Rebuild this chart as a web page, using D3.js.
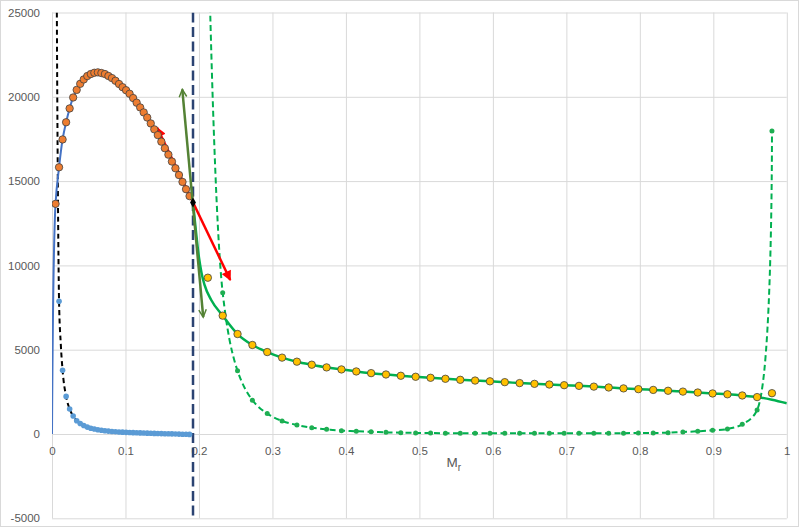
<!DOCTYPE html>
<html lang="en">
  <head>
    <style>
      body { margin: 0; background: #fff; }
      .grid line { stroke: #d9d9d9; stroke-width: 1; }
      .labels text {
        fill: #595959;
        font-family: "Liberation Sans", Arial, sans-serif;
        font-size: 11.5px;
      }
    </style>
  </head>

  <body>
    <svg id="chart" width="800" height="528"></svg>
  </body>
  <script src="https://d3js.org/d3.v7.min.js"></script>
  <script>
// left branch (Mr below the boundary)
let leftX = [0.0048, 0.0096, 0.0144, 0.0192, 0.0240, 0.0288, 0.0336, 0.0384, 0.0432, 0.0480,
             0.0528, 0.0576, 0.0624, 0.0672, 0.0720, 0.0768, 0.0816, 0.0864, 0.0912, 0.0960,
             0.1008, 0.1056, 0.1104, 0.1152, 0.1200, 0.1248, 0.1296, 0.1344, 0.1392, 0.1440,
             0.1488, 0.1536, 0.1584, 0.1632, 0.1680, 0.1728, 0.1776, 0.1824, 0.1872]
let orangeY = [13650, 15820, 17470, 18490, 19310, 19960, 20410, 20770, 21030, 21230,
               21350, 21425, 21450, 21410, 21350, 21235, 21110, 20950, 20760, 20570,
               20390, 20180, 19925, 19650, 19370, 19075, 18770, 18420, 18070, 17730,
               17340, 16950, 16570, 16160, 15760, 15360, 14950, 14520, 14110]
let blueDotY = [27400, 7875, 3780, 2230, 1480, 1070, 790, 620, 500, 410,
                345, 295, 255, 222, 195, 172, 152, 136, 122, 110,
                99, 89, 80, 72, 64, 57, 50, 43, 36, 30,
                24, 18, 12, 6, 0, -6, -12, -18, -24]
let blackCurveX = [0.0066, 0.0072, 0.0080, 0.0088, 0.0096, 0.0120, 0.0144, 0.0192, 0.0240,
                   0.0288, 0.0336, 0.0432, 0.0528, 0.0720, 0.0960, 0.1200, 0.1500, 0.1900]
let blackCurveY = [25000, 19800, 14500, 10500, 7875, 5300, 3780, 2230, 1480,
                   1070, 790, 500, 345, 195, 110, 64, 24, -20]

// right branch
let rightX = [0.2121, 0.2323, 0.2525, 0.2727, 0.2929, 0.3131, 0.3333, 0.3535, 0.3737, 0.3939,
              0.4141, 0.4343, 0.4545, 0.4747, 0.4949, 0.5152, 0.5354, 0.5556, 0.5758, 0.5960,
              0.6162, 0.6364, 0.6566, 0.6768, 0.6970, 0.7172, 0.7374, 0.7576, 0.7778, 0.7980,
              0.8182, 0.8384, 0.8586, 0.8788, 0.8990, 0.9192, 0.9394, 0.9596, 0.9798]
let yellowY = [9270, 7020, 5930, 5280, 4860, 4530, 4290, 4110, 3950, 3830,
               3710, 3610, 3530, 3455, 3395, 3335, 3275, 3215, 3170, 3125,
               3075, 3020, 2975, 2935, 2895, 2855, 2810, 2760, 2705, 2660,
               2615, 2565, 2515, 2460, 2405, 2355, 2285, 2190, 2420]
let greenDotY = [31000, 8375, 3750, 2006, 1210, 774, 536, 375, 280, 200,
                 160, 130, 100, 80, 65, 55, 48, 44, 42, 40,
                 40, 40, 40, 40, 40, 42, 44, 46, 50, 55,
                 62, 77, 119, 160, 220, 298, 577, 1428, 17976]
let greenCurveX = [0.1919, 0.1957, 0.2001, 0.2035, 0.2076, 0.2167, 0.2323, 0.2525, 0.2727, 0.2929,
                   0.3131, 0.3333, 0.3535, 0.3737, 0.3939, 0.4141, 0.4343, 0.4545, 0.4747, 0.4949,
                   0.5152, 0.5354, 0.5556, 0.5758, 0.5960, 0.6162, 0.6364, 0.6566, 0.6768, 0.6970,
                   0.7172, 0.7374, 0.7576, 0.7778, 0.7980, 0.8182, 0.8384, 0.8586, 0.8788, 0.8990,
                   0.9192, 0.9394, 0.9596, 0.9798, 1.0]
let greenCurveY = [13730, 12100, 10440, 9550, 8840, 7950, 7020, 5930, 5280, 4860,
                   4530, 4290, 4110, 3950, 3830, 3710, 3610, 3530, 3455, 3395,
                   3335, 3275, 3215, 3170, 3125, 3075, 3020, 2975, 2935, 2895,
                   2855, 2810, 2760, 2705, 2660, 2615, 2565, 2515, 2460, 2405,
                   2355, 2285, 2190, 2030, 1820]

// boundary point and tangents
let boundaryX = [0.1919]
let pivotY = [13730]
let redArrowX = [0.1432, 0.2426]
let redArrowY = [18160, 9130]
let oliveArrowX = [0.1773, 0.2058]
let oliveArrowY = [20440, 6930]

let xTicks = [0, 0.1, 0.2, 0.3, 0.4, 0.5, 0.6, 0.7, 0.8, 0.9, 1]
let yTicks = [-5000, 0, 5000, 10000, 15000, 20000, 25000]

let svg = d3.select("#chart")
let plotLeft = 52, plotRight = 786.8, plotTop = 12.5, plotBottom = 518.3

let x = d3.scaleLinear().domain([0, 1]).range([plotLeft, plotRight])
let y = d3.scaleLinear().domain([-5000, 25000]).range([plotBottom, plotTop])

svg.append("rect")
    .attr("x", 0.5).attr("y", 0.5)
    .attr("width", 798).attr("height", 526)
    .attr("fill", "#fff")
    .attr("stroke", "#d9d9d9")

// gridlines
svg.append("g")
    .attr("class", "grid")
    .attr("transform", `translate(0,${plotBottom})`)
    .call(d3.axisBottom(x).tickValues(xTicks).tickSize(-(plotBottom - plotTop)).tickFormat(""))
    .call(g => g.select(".domain").remove())

svg.append("g")
    .attr("class", "grid")
    .attr("transform", `translate(${plotLeft},0)`)
    .call(d3.axisLeft(y).tickValues(yTicks).tickSize(-(plotRight - plotLeft)).tickFormat(""))
    .call(g => g.select(".domain").remove())

// tick labels
svg.append("g")
    .attr("class", "labels")
    .attr("transform", `translate(0,${y(0)})`)
    .call(d3.axisBottom(x).tickValues(xTicks).tickSize(0).tickPadding(12.5).tickFormat(d3.format("~g")))
    .call(g => g.select(".domain").remove())

svg.append("g")
    .attr("class", "labels")
    .attr("transform", `translate(${plotLeft},0)`)
    .call(d3.axisLeft(y).tickValues(yTicks).tickSize(0).tickPadding(12).tickFormat(d => String(d)))
    .call(g => g.select(".domain").remove())

let title = svg.append("text")
    .attr("x", 446.5)
    .attr("y", 466.5)
    .attr("fill", "#595959")
    .style("font-family", "\"Liberation Sans\", Arial, sans-serif")
    .style("font-size", "13.5px")
    .text("M")
title.append("tspan")
    .attr("dy", 4)
    .style("font-size", "10px")
    .text("r")

// arrow heads
let defs = svg.append("defs")
defs.append("marker")
    .attr("id", "redHead")
    .attr("viewBox", "0 -5 10 10")
    .attr("refX", 9).attr("refY", 0)
    .attr("markerUnits", "userSpaceOnUse")
    .attr("markerWidth", 11).attr("markerHeight", 10)
    .attr("orient", "auto-start-reverse")
    .append("path")
    .attr("d", "M0,-5L10,0L0,5Z")
    .attr("fill", "#ff0000")
defs.append("marker")
    .attr("id", "oliveHead")
    .attr("viewBox", "-1 -6 12 12")
    .attr("refX", 9).attr("refY", 0)
    .attr("markerUnits", "userSpaceOnUse")
    .attr("markerWidth", 10).attr("markerHeight", 10)
    .attr("orient", "auto-start-reverse")
    .append("path")
    .attr("d", "M0,-4.5L9,0L0,4.5")
    .attr("fill", "none")
    .attr("stroke", "#548235")
    .attr("stroke-width", 1.8)

defs.append("clipPath")
    .attr("id", "plotClip")
    .append("rect")
    .attr("x", plotLeft).attr("y", plotTop)
    .attr("width", plotRight - plotLeft).attr("height", plotBottom - plotTop)

let plot = svg.append("g").attr("clip-path", "url(#plotClip)")

function line(curve) {
    return d3.line().x(d => x(d[0])).y(d => y(d[1])).curve(curve)
}

function dots(xs, ys, r, fill, stroke) {
    plot.append("g")
        .selectAll("circle")
        .data(d3.zip(xs, ys))
        .enter()
        .append("circle")
            .attr("cx", d => x(d[0]))
            .attr("cy", d => y(d[1]))
            .attr("r", r)
            .attr("fill", fill)
            .attr("stroke", stroke || "none")
            .attr("stroke-width", 0.8)
}

// black dashed asymptotic curve
plot.append("path")
    .datum(d3.zip(blackCurveX, blackCurveY))
    .attr("d", line(d3.curveMonotoneX))
    .attr("fill", "none")
    .attr("stroke", "#000")
    .attr("stroke-width", 2)
    .attr("stroke-dasharray", "5,3.5")

// boundary
plot.append("line")
    .attr("x1", x(boundaryX[0])).attr("x2", x(boundaryX[0]))
    .attr("y1", y(25000)).attr("y2", y(-5000))
    .attr("stroke", "#2b4372")
    .attr("stroke-width", 2.5)
    .attr("stroke-dasharray", "10,4.5")

// green dashed with dots
plot.append("path")
    .datum(d3.zip(rightX, greenDotY))
    .attr("d", line(d3.curveCatmullRom))
    .attr("fill", "none")
    .attr("stroke", "#00b050")
    .attr("stroke-width", 2)
    .attr("stroke-dasharray", "6,3.5")
dots(rightX, greenDotY, 2.5, "#1fae52")

// green solid curve with yellow markers
plot.append("path")
    .datum(d3.zip(greenCurveX, greenCurveY))
    .attr("d", line(d3.curveMonotoneX))
    .attr("fill", "none")
    .attr("stroke", "#00b050")
    .attr("stroke-width", 2.5)
dots(rightX, yellowY, 3.7, "#ffc000", "#404040")

// blue line from origin through the left branch
plot.append("path")
    .datum(d3.zip([0].concat(leftX), [0].concat(orangeY)))
    .attr("d", line(d3.curveCatmullRom))
    .attr("fill", "none")
    .attr("stroke", "#4472c4")
    .attr("stroke-width", 2)

// red tangent
plot.append("line")
    .attr("x1", x(redArrowX[0])).attr("y1", y(redArrowY[0]))
    .attr("x2", x(redArrowX[1])).attr("y2", y(redArrowY[1]))
    .attr("stroke", "#ff0000")
    .attr("stroke-width", 2.5)
    .attr("marker-start", "url(#redHead)")
    .attr("marker-end", "url(#redHead)")

dots(leftX, orangeY, 3.7, "#ed7d31", "#404040")

// olive tangent
plot.append("line")
    .attr("x1", x(oliveArrowX[0])).attr("y1", y(oliveArrowY[0]))
    .attr("x2", x(oliveArrowX[1])).attr("y2", y(oliveArrowY[1]))
    .attr("stroke", "#548235")
    .attr("stroke-width", 2.5)
    .attr("marker-start", "url(#oliveHead)")
    .attr("marker-end", "url(#oliveHead)")

dots(leftX, blueDotY, 2.8, "#5b9bd5")

plot.append("path")
    .attr("d", d3.symbol(d3.symbolDiamond).size(30))
    .attr("transform", `translate(${x(boundaryX[0])},${y(pivotY[0])})`)
    .attr("fill", "#000")
  </script>
</html>
